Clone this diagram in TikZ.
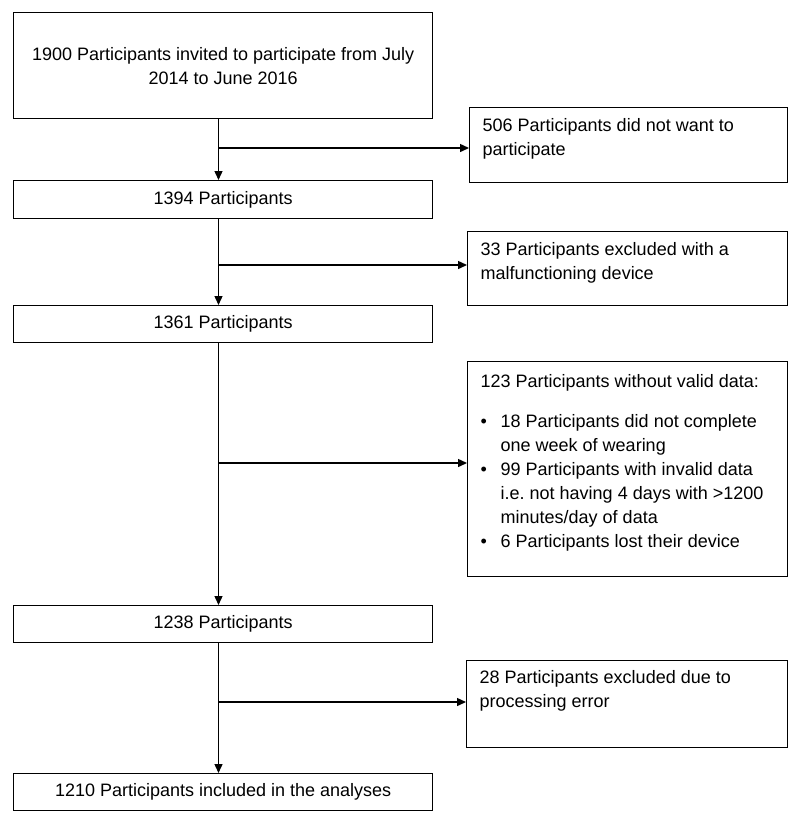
\documentclass[tikz,border=0pt]{standalone}
\usepackage{fontspec}
\setmainfont{Liberation Sans}
\usetikzlibrary{arrows.meta}
\frenchspacing
\newcommand{\bulletline}[1]{\par\hangindent=20pt\hangafter=1\noindent\makebox[20pt][l]{\textbullet}#1}

\begin{document}
\begin{tikzpicture}[x=1pt, y=-1pt,
  every node/.style={font=\fontsize{18}{24}\selectfont},
  mainbox/.style={draw, line width=1.4pt, anchor=north west, minimum width=419pt, inner sep=0pt, align=center},
  sidebox/.style={draw, line width=1.4pt, anchor=north west, inner xsep=13pt, inner ysep=0pt},
  flow/.style={line width=1.4pt, -{Triangle[length=9pt,width=8pt]}}]
  \useasboundingbox (0,0) rectangle (800,823);

  % Main column
  \node[mainbox, minimum height=106pt] (b1) at (13,12) {1900 Participants invited to participate from July\\2014 to June 2016};
  \node[mainbox, minimum height=38pt] (b2) at (13,180) {1394 Participants};
  \node[mainbox, minimum height=37pt] (b3) at (13,305) {1361 Participants};
  \node[mainbox, minimum height=37pt] (b4) at (13,605) {1238 Participants};
  \node[mainbox, minimum height=37pt] (b5) at (13,773) {1210 Participants included in the analyses};

  % Exclusions
  \node[sidebox] (r1) at (469,107) {\parbox[c][75pt][t]{292pt}{\vspace*{10.5pt}506 Participants did not want to\\participate}};
  \node[sidebox] (r2) at (467,231) {\parbox[c][74pt][t]{294pt}{\vspace*{10.5pt}33 Participants excluded with a\\malfunctioning device}};
  \node[sidebox] (r3) at (467,361) {\parbox[c][215pt][t]{294pt}{\vspace*{13pt}123 Participants without valid data:\par\vspace{16pt}%
    \bulletline{18 Participants did not complete\\one week of wearing}%
    \bulletline{99 Participants with invalid data\\i.e. not having 4 days with >1200\\minutes/day of data}%
    \bulletline{6 Participants lost their device}}};
  \node[sidebox] (r4) at (466,660) {\parbox[c][87pt][t]{295pt}{\vspace*{10pt}28 Participants excluded due to\\processing error}};

  % Trunk
  \coordinate (trunk) at (218.5,0);
  \draw[flow] (b1.south -| trunk) -- (b2.north -| trunk);
  \draw[flow] (b2.south -| trunk) -- (b3.north -| trunk);
  \draw[flow] (b3.south -| trunk) -- (b4.north -| trunk);
  \draw[flow] (b4.south -| trunk) -- (b5.north -| trunk);

  % Branches
  \coordinate (j1) at (218.5,148);
  \coordinate (j2) at (218.5,265);
  \coordinate (j3) at (218.5,463);
  \coordinate (j4) at (218.5,702);
  \draw[flow] (j1) -- (j1 -| r1.west);
  \draw[flow] (j2) -- (j2 -| r2.west);
  \draw[flow] (j3) -- (j3 -| r3.west);
  \draw[flow] (j4) -- (j4 -| r4.west);
\end{tikzpicture}
\end{document}
